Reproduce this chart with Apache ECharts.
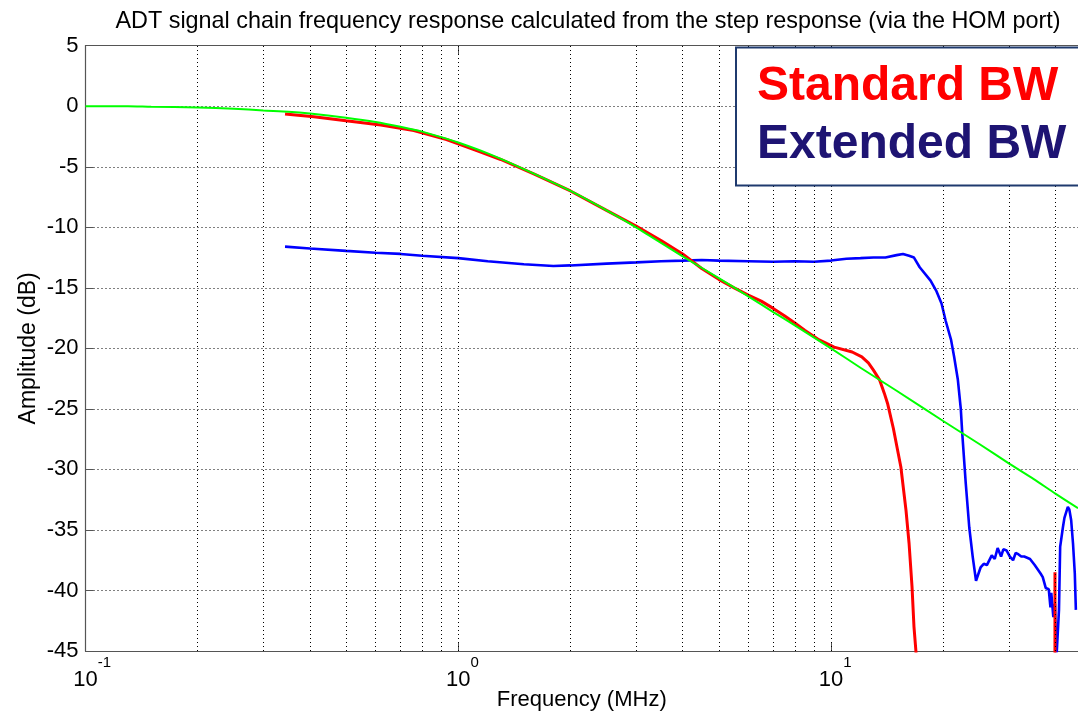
<!DOCTYPE html>
<html>
<head>
<meta charset="utf-8">
<script src="https://cdn.jsdelivr.net/npm/echarts@6/dist/echarts.min.js"></script>
<style>
html,body{margin:0;padding:0;background:#fff;}
#chart{width:1078px;height:716px;}
</style>
</head>
<body>
<div id="chart"></div>
<script>
// ---- data (frequency in MHz, amplitude in dB) ----
const titleText = 'ADT signal chain frequency response calculated from the step response (via the HOM port)';
const xLabelTicks = [0.1, 1, 10];
const xGridFreqs = [0.2,0.3,0.4,0.5,0.6,0.7,0.8,0.9,1,2,3,4,5,6,7,8,9,10,20,30,40];
const yTicks = [5,0,-5,-10,-15,-20,-25,-30,-35,-40,-45];

const greenFreq = [0.1,0.13,0.15,0.2,0.25,0.3,0.35,0.4,0.5,0.6,0.7,0.8,0.9,1.0,1.2,1.5,2.0,2.5,3.0,4.0,5.0,6.0,7.0,8.0,10,12,15,20,25,30,35,40,46];
const greenDb   = [0,0,-0.05,-0.1,-0.2,-0.35,-0.45,-0.6,-0.95,-1.3,-1.7,-2.1,-2.55,-3.0,-3.9,-5.2,-7.0,-8.6,-10.0,-12.4,-14.2,-15.7,-17.0,-18.1,-20.0,-21.6,-23.5,-26.0,-27.9,-29.5,-30.8,-32.0,-33.2];

const redFreq = [0.343,0.41,0.5,0.62,0.76,0.93,1.0,1.14,1.3,1.6,2.0,2.5,3.0,3.5,4.0,4.5,5.0,5.5,6.0,6.5,7.0,7.5,8.0,8.5,9.3,10.2,11.4,12.1,12.6,13.0,13.5,13.9,14.2,14.7,15.4,15.9,16.2,16.5,16.7,16.9,17.1,39.9,39.9];
const redDb   = [-0.65,-0.87,-1.2,-1.55,-2.0,-2.75,-3.1,-3.75,-4.4,-5.6,-7.0,-8.6,-9.9,-11.1,-12.2,-13.4,-14.3,-15.0,-15.6,-16.1,-16.7,-17.3,-17.9,-18.5,-19.3,-19.9,-20.3,-20.7,-21.2,-21.8,-22.6,-23.7,-24.6,-26.6,-29.8,-33.4,-36.1,-39.7,-43.0,-45.0,-48,-60,-38.5];

const blueFreq = [0.343,0.4,0.5,0.6,0.7,0.8,1.0,1.2,1.5,1.8,2.0,2.5,3.0,3.5,4.0,4.5,5.0,6.0,7.0,8.0,9.0,10,11,12,13,14,15,15.6,16.2,16.7,17.3,18.5,19.2,19.8,20.3,21.0,21.4,21.9,22.3,22.5,23.0,23.5,24.0,24.5,25.2,25.7,26.2,27.0,27.5,28.0,28.6,29.0,29.6,30.2,30.8,31.3,31.8,32.4,33.0,34.2,35.2,36.5,37.0,37.7,38.4,38.8,39.0,39.5,39.9,40.2,40.6,40.9,41.2,41.9,42.3,43.2,43.6,44.1,44.6,45.1,45.4];
const blueDb   = [-11.6,-11.75,-11.95,-12.1,-12.2,-12.35,-12.55,-12.8,-13.05,-13.2,-13.15,-13.0,-12.9,-12.8,-12.75,-12.7,-12.75,-12.8,-12.85,-12.8,-12.85,-12.75,-12.6,-12.55,-12.5,-12.5,-12.3,-12.2,-12.35,-12.5,-13.3,-14.4,-15.3,-16.3,-17.7,-19.3,-20.7,-22.6,-25.0,-27.0,-31.2,-34.8,-37.2,-39.2,-38.1,-37.8,-37.9,-37.1,-37.4,-36.5,-37.2,-36.6,-36.7,-37.2,-37.5,-36.9,-37.0,-37.2,-37.2,-37.4,-37.9,-38.6,-38.9,-39.8,-39.9,-41.4,-40.2,-42.2,-41.1,-46,-46,-41.6,-36.4,-34.8,-34.0,-33.1,-33.3,-34.2,-36.1,-38.6,-41.6];

const legendStd = 'Standard BW';
const legendExt = 'Extended BW';

// ---- chart ----
const FONT = '"Liberation Sans", Arial, Helvetica, sans-serif';
const pairs = (xs, ys) => xs.map((x, i) => [x, ys[i]]);
const chart = echarts.init(document.getElementById('chart'), null, {renderer: 'canvas'});

const gridLine = {type: [1, 3], color: '#000', width: 1};
const expOf = v => String(Math.round(Math.log10(v)));

chart.setOption({
  animation: false,
  backgroundColor: '#fff',
  title: {
    text: titleText,
    left: 583,
    top: 5,
    textAlign: 'center',
    textStyle: {fontFamily: FONT, fontSize: 23.4, fontWeight: 'normal', color: '#000'}
  },
  grid: {left: 85.5, right: 0, top: 45.7, bottom: 65, containLabel: false, outerBoundsMode: 'none'},
  xAxis: [{
    type: 'log', logBase: 10, min: 0.1, max: 46,
    position: 'bottom',
    name: 'Frequency (MHz)', nameLocation: 'middle', nameGap: 38, nameMoveOverlap: false,
    nameTextStyle: {fontFamily: FONT, fontSize: 22, color: '#000'},
    axisLine: {show: true, onZero: false, lineStyle: {color: '#555', width: 1.2}},
    axisTick: {show: true, inside: true, length: 9, lineStyle: {color: '#555'}},
    axisLabel: {
      show: true, margin: 4, showMaxLabel: false,
      formatter: v => '{p|' + expOf(v) + '}{b|10}{s|' + expOf(v) + '}',
      rich: {
        p: {fontFamily: FONT, fontSize: 15, color: 'rgba(0,0,0,0)', verticalAlign: 'top', lineHeight: 36},
        b: {fontFamily: FONT, fontSize: 22, color: '#000', verticalAlign: 'bottom', lineHeight: 36},
        s: {fontFamily: FONT, fontSize: 15, color: '#000', verticalAlign: 'top', lineHeight: 36}
      }
    },
    splitLine: {show: false}
  }, {
    type: 'log', logBase: 10, min: 0.1, max: 46,
    position: 'top',
    axisLine: {show: true, onZero: false, lineStyle: {color: '#555', width: 1.2}},
    axisTick: {show: true, inside: true, length: 9, lineStyle: {color: '#555'}},
    axisLabel: {show: false},
    splitLine: {show: false}
  }],
  yAxis: [{
    type: 'value', min: -45, max: 5, interval: 5,
    name: 'Amplitude (dB)', nameLocation: 'middle', nameGap: 45, nameRotate: 90, nameMoveOverlap: false,
    nameTextStyle: {fontFamily: FONT, fontSize: 23, color: '#000'},
    axisLine: {show: true, onZero: false, lineStyle: {color: '#555', width: 1.2}},
    axisTick: {show: true, inside: true, length: 8, lineStyle: {color: '#555'}},
    axisLabel: {margin: 7, fontFamily: FONT, fontSize: 22, color: '#000',
      formatter: v => yTicks.includes(v) ? String(v) : ''},
    splitLine: {show: true, lineStyle: gridLine}
  }],
  series: [
    {
      name: 'grid', type: 'line', data: [], z: 1, silent: true,
      markLine: {
        silent: true, symbol: ['none', 'none'], animation: false,
        label: {show: false},
        lineStyle: gridLine,
        emphasis: {disabled: true},
        data: xGridFreqs.map(f => ({xAxis: f}))
      }
    },
    {
      name: legendExt, type: 'line', data: pairs(blueFreq, blueDb), z: 3,
      showSymbol: false, symbol: 'none', clip: true,
      lineStyle: {color: '#0000ff', width: 2.6}, itemStyle: {color: '#0000ff'}
    },
    {
      name: legendStd, type: 'line', data: pairs(redFreq, redDb), z: 4,
      showSymbol: false, symbol: 'none', clip: true,
      lineStyle: {color: '#ff0000', width: 3}, itemStyle: {color: '#ff0000'}
    },
    {
      name: 'Model', type: 'line', data: pairs(greenFreq, greenDb), z: 5,
      showSymbol: false, symbol: 'none', clip: true, smooth: 0.2,
      lineStyle: {color: '#00ff00', width: 2}, itemStyle: {color: '#00ff00'}
    }
  ],
  graphic: [
    {type: 'rect', z: 100, shape: {x: 736, y: 47.5, width: 360, height: 138},
     style: {fill: '#fff', stroke: '#1f3a6e', lineWidth: 2}},
    {type: 'text', z: 101, x: 757, y: 87,
     style: {text: legendStd, fill: '#ff0000', font: 'bold 48px ' + FONT, textAlign: 'left', textVerticalAlign: 'middle'}},
    {type: 'text', z: 101, x: 757, y: 145,
     style: {text: legendExt, fill: '#1e1473', font: 'bold 48px ' + FONT, textAlign: 'left', textVerticalAlign: 'middle'}}
  ]
});
</script>
</body>
</html>
